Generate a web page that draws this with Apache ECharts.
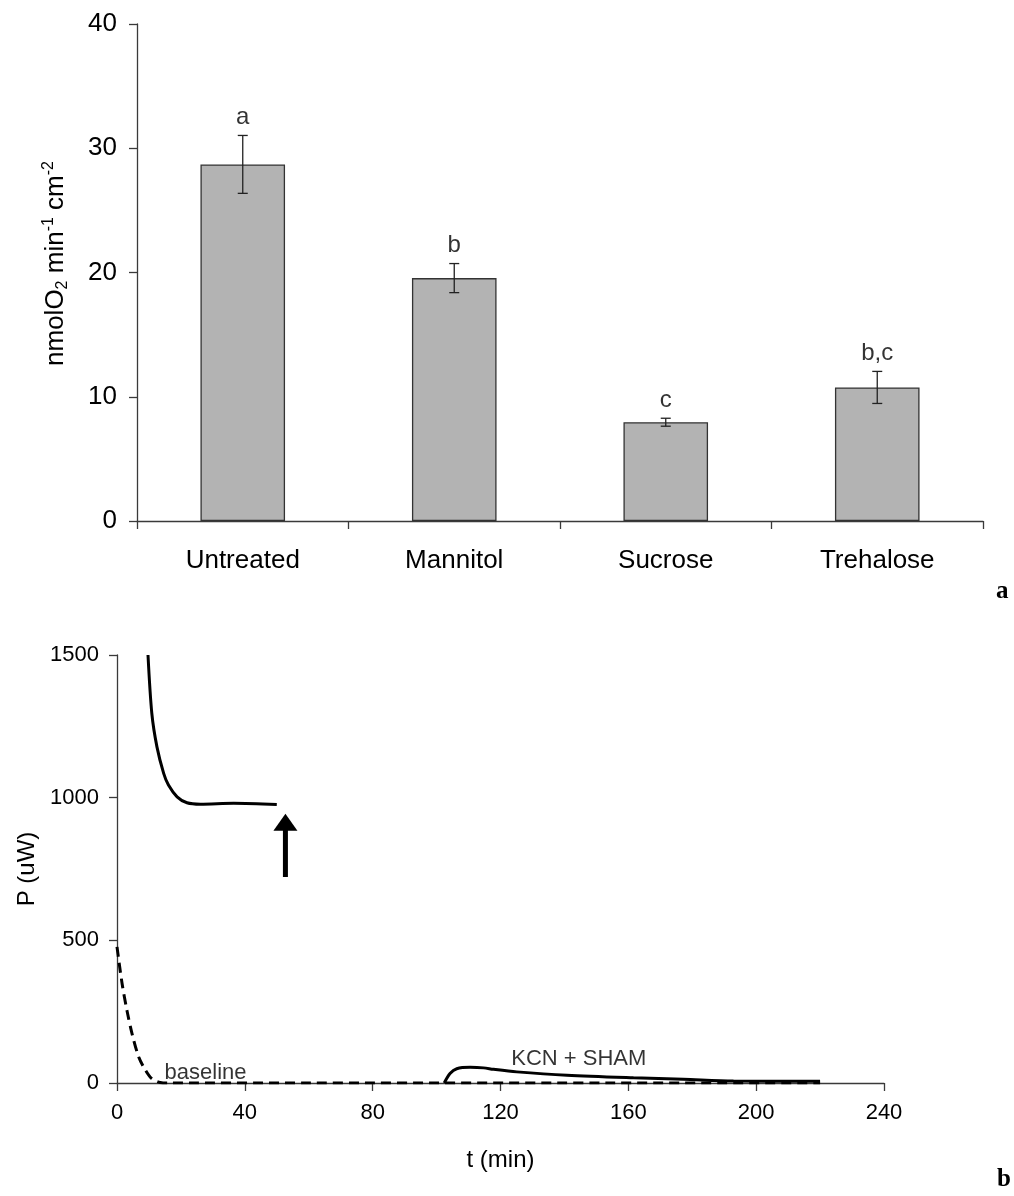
<!DOCTYPE html>
<html>
<head>
<meta charset="utf-8">
<script src="https://cdn.jsdelivr.net/npm/echarts@6/dist/echarts.min.js"></script>
<style>
  html, body { margin: 0; padding: 0; background: #fff; }
  #chart { width: 1014px; height: 1196px; }
</style>
</head>
<body>
<div id="chart"></div>
<script>
// Panel a: O2 consumption rate per treatment (mean ± SE) with significance letters
const categories = ['Untreated', 'Mannitol', 'Sucrose', 'Trehalose'];
const rates = [28.7, 19.55, 7.95, 10.75];
const rateErrors = [2.33, 1.17, 0.32, 1.29];
const groupLetters = ['a', 'b', 'c', 'b,c'];
const rateTicks = [0, 10, 20, 30, 40];

// Panel b: heat flow P (uW) vs time t (min)
const timeTicks = [0, 40, 80, 120, 160, 200, 240];
const powerTicks = [0, 500, 1000, 1500];
const initialTrace = [
  [9.7, 1500], [10.9, 1295], [12.5, 1178], [14.6, 1085], [16.1, 1044],
  [18.8, 1003], [21.9, 982], [26.1, 977], [36.5, 980], [50.0, 976]
];
const baselineTrace = [
  [0, 477], [1.6, 348], [3.1, 255], [4.7, 173], [6.8, 91], [8.9, 45],
  [10.9, 15], [13.5, 2], [16, 0], [220, 0]
];
const inhibitorTrace = [
  [102.4, 0], [104.2, 33], [106.3, 50], [110.5, 55], [114.7, 53], [117.8, 48],
  [125.1, 39], [140.8, 27], [161.6, 18], [177.2, 13], [192.9, 7], [220, 6]
];
// arrow marking the addition time: [t, P from, P to]
const additionArrow = [[52.7, 722, 944]];
// trace annotations: [t, P, text]
const traceNotes = [[14.9, 37, 'baseline'], [144.5, 84, 'KCN + SHAM']];

const FONT = '"Liberation Sans", Arial, sans-serif';
const AXIS_COLOR = '#3a3a3a';

const chart = echarts.init(document.getElementById('chart'), null, { renderer: 'canvas' });

const axisLineStyle = { lineStyle: { color: AXIS_COLOR, width: 1.3 } };
const axisTickStyle = { show: true, length: 8, inside: false, lineStyle: { color: AXIS_COLOR, width: 1.3 } };
const plainNumber = v => String(v);

const option = {
  backgroundColor: '#fff',
  animation: false,
  grid: [
    { left: 137, top: 24, width: 846, height: 497 },
    { left: 117, top: 655, width: 767, height: 428 }
  ],
  xAxis: [
    {
      gridIndex: 0,
      type: 'category',
      data: categories,
      boundaryGap: true,
      axisLine: axisLineStyle,
      axisTick: Object.assign({ alignWithLabel: false }, axisTickStyle),
      axisLabel: { color: '#000', fontFamily: FONT, fontSize: 26, margin: 27 },
      splitLine: { show: false }
    },
    {
      gridIndex: 1,
      type: 'value',
      min: timeTicks[0],
      max: timeTicks[timeTicks.length - 1],
      interval: 40,
      name: 't (min)',
      nameLocation: 'middle',
      nameGap: 65,
      nameTextStyle: { color: '#000', fontFamily: FONT, fontSize: 24 },
      axisLine: axisLineStyle,
      axisTick: axisTickStyle,
      axisLabel: { color: '#000', fontFamily: FONT, fontSize: 22, margin: 19, formatter: plainNumber },
      splitLine: { show: false }
    }
  ],
  yAxis: [
    {
      gridIndex: 0,
      type: 'value',
      min: rateTicks[0],
      max: rateTicks[rateTicks.length - 1],
      interval: 10,
      name: '{m|nmolO}{s|2}{m| min}{p|-1}{m| cm}{p|-2}',
      nameLocation: 'middle',
      nameRotate: 90,
      nameGap: 66,
      nameTextStyle: {
        color: '#000',
        fontFamily: FONT,
        padding: [0, 0, 0, 18],
        rich: {
          m: { fontFamily: FONT, fontSize: 26, color: '#000', lineHeight: 30, verticalAlign: 'middle' },
          s: { fontFamily: FONT, fontSize: 16, color: '#000', lineHeight: 22, verticalAlign: 'bottom' },
          p: { fontFamily: FONT, fontSize: 16, color: '#000', lineHeight: 18, verticalAlign: 'top' }
        }
      },
      axisLine: Object.assign({ show: true }, axisLineStyle),
      axisTick: axisTickStyle,
      axisLabel: { color: '#000', fontFamily: FONT, fontSize: 26, margin: 20, formatter: plainNumber },
      splitLine: { show: false }
    },
    {
      gridIndex: 1,
      type: 'value',
      min: powerTicks[0],
      max: powerTicks[powerTicks.length - 1],
      interval: 500,
      name: 'P (uW)',
      nameLocation: 'middle',
      nameRotate: 90,
      nameGap: 78,
      nameTextStyle: { color: '#000', fontFamily: FONT, fontSize: 24 },
      axisLine: Object.assign({ show: true }, axisLineStyle),
      axisTick: axisTickStyle,
      axisLabel: { color: '#000', fontFamily: FONT, fontSize: 22, margin: 18, formatter: plainNumber },
      splitLine: { show: false }
    }
  ],
  graphic: [
    { type: 'text', left: 996, top: 579, style: { text: 'a', font: 'bold 25px "Liberation Serif", "Times New Roman", serif', fill: '#000' } },
    { type: 'text', left: 997, top: 1167, style: { text: 'b', font: 'bold 25px "Liberation Serif", "Times New Roman", serif', fill: '#000' } }
  ],
  series: [
    {
      name: 'rate',
      type: 'bar',
      xAxisIndex: 0,
      yAxisIndex: 0,
      data: rates,
      barWidth: '40%',
      itemStyle: { color: '#b3b3b3', borderColor: '#333', borderWidth: 1.3 },
      z: 2
    },
    {
      name: 'rate error',
      type: 'custom',
      xAxisIndex: 0,
      yAxisIndex: 0,
      data: rates.map((v, i) => [i, v - rateErrors[i], v + rateErrors[i]]),
      renderItem: function (params, api) {
        const lo = api.coord([api.value(0), api.value(1)]);
        const hi = api.coord([api.value(0), api.value(2)]);
        const cap = 5;
        const style = { stroke: '#222', lineWidth: 1.3, fill: null };
        return {
          type: 'group',
          children: [
            { type: 'line', shape: { x1: lo[0], y1: lo[1], x2: hi[0], y2: hi[1] }, style: style },
            { type: 'line', shape: { x1: lo[0] - cap, y1: lo[1], x2: lo[0] + cap, y2: lo[1] }, style: style },
            { type: 'line', shape: { x1: hi[0] - cap, y1: hi[1], x2: hi[0] + cap, y2: hi[1] }, style: style }
          ]
        };
      },
      z: 3
    },
    {
      name: 'letters',
      type: 'scatter',
      xAxisIndex: 0,
      yAxisIndex: 0,
      symbolSize: 0,
      data: rates.map((v, i) => [i, v + rateErrors[i], groupLetters[i]]),
      label: {
        show: true,
        position: 'top',
        distance: 6,
        formatter: p => p.value[2],
        color: '#000',
        fontFamily: FONT,
        fontSize: 24
      },
      z: 4
    },
    {
      name: 'initial',
      type: 'line',
      xAxisIndex: 1,
      yAxisIndex: 1,
      data: initialTrace,
      showSymbol: false,
      smooth: 0.3,
      lineStyle: { color: '#000', width: 3 },
      z: 3
    },
    {
      name: 'baseline',
      type: 'line',
      xAxisIndex: 1,
      yAxisIndex: 1,
      data: baselineTrace,
      showSymbol: false,
      smooth: 0.3,
      lineStyle: { color: '#000', width: 3, type: [10, 6] },
      z: 3
    },
    {
      name: 'KCN + SHAM',
      type: 'line',
      xAxisIndex: 1,
      yAxisIndex: 1,
      data: inhibitorTrace,
      showSymbol: false,
      smooth: 0.3,
      lineStyle: { color: '#000', width: 3 },
      z: 3
    },
    {
      name: 'addition',
      type: 'custom',
      xAxisIndex: 1,
      yAxisIndex: 1,
      data: additionArrow,
      renderItem: function (params, api) {
        const from = api.coord([api.value(0), api.value(1)]);
        const to = api.coord([api.value(0), api.value(2)]);
        const headH = 17, headW = 12;
        return {
          type: 'group',
          children: [
            { type: 'line', shape: { x1: from[0], y1: from[1], x2: to[0], y2: to[1] + headH - 1 }, style: { stroke: '#000', lineWidth: 5 } },
            { type: 'polygon', shape: { points: [[to[0], to[1]], [to[0] - headW, to[1] + headH], [to[0] + headW, to[1] + headH]] }, style: { fill: '#000' } }
          ]
        };
      },
      z: 4
    },
    {
      name: 'notes',
      type: 'scatter',
      xAxisIndex: 1,
      yAxisIndex: 1,
      symbolSize: 0,
      // "baseline" starts at its anchor; "KCN + SHAM" is centred on its anchor
      data: traceNotes.map((d, i) => ({
        value: d,
        label: i === 0
          ? { position: 'right', distance: 0, color: '#000' }
          : { position: 'inside', color: '#000' }
      })),
      label: {
        show: true,
        formatter: p => p.value[2],
        color: '#000',
        fontFamily: FONT,
        fontSize: 22
      },
      z: 5
    }
  ]
};

chart.setOption(option);
</script>
</body>
</html>
